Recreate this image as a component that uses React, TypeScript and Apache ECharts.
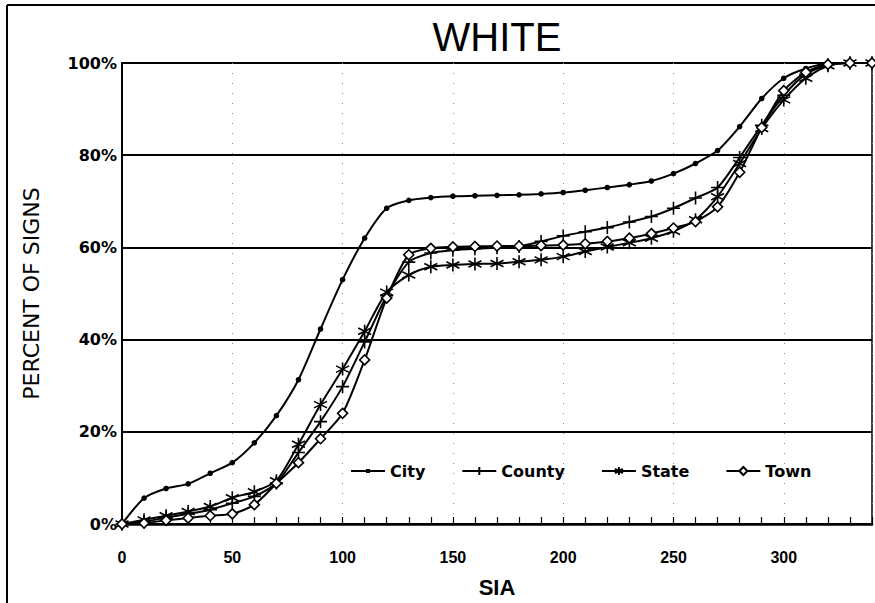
import React, { useEffect, useRef } from "react";
import * as echarts from "echarts";

const sia = [0, 10, 20, 30, 40, 50, 60, 70, 80, 90, 100, 110, 120, 130, 140, 150, 160, 170, 180, 190, 200, 210, 220, 230, 240, 250, 260, 270, 280, 290, 300, 310, 320, 330, 340];
const city = [0, 5.6, 7.7, 8.7, 11, 13.3, 17.6, 23.5, 31.3, 42.3, 53, 62, 68.5, 70.2, 70.8, 71.1, 71.2, 71.3, 71.4, 71.6, 71.9, 72.4, 73, 73.6, 74.4, 76, 78.2, 81, 86.2, 92.3, 96.7, 98.8, 99.9, 100, 100];
const county = [0, 0.5, 1.4, 2.2, 3.1, 4.5, 6, 8.9, 15.5, 22.2, 29.8, 39.5, 49.5, 56.8, 58.8, 59.4, 59.7, 59.9, 60.2, 61.3, 62.5, 63.4, 64.3, 65.5, 66.7, 68.5, 70.7, 73, 79.5, 86.5, 93, 97.6, 99.6, 100, 100];
const state = [0, 0.9, 1.8, 2.7, 3.8, 5.7, 7, 9.4, 17.3, 25.9, 33.6, 41.8, 50.3, 54, 55.8, 56.2, 56.4, 56.5, 56.9, 57.3, 58, 59.1, 60.1, 61, 62, 63.5, 66, 71, 78.2, 85.8, 92, 96.7, 99.4, 100, 100];
const town = [0, 0.2, 0.8, 1.3, 1.8, 2.2, 4.2, 8.8, 13.3, 18.5, 24, 35.6, 49, 58.4, 59.8, 60.1, 60.2, 60.3, 60.3, 60.4, 60.5, 60.8, 61.3, 62, 63, 64.2, 65.6, 68.8, 76.3, 86, 94, 98, 99.7, 100, 100];
const yTicks = [0, 20, 40, 60, 80, 100];

const FONT = "'Liberation Sans', Arial, sans-serif";
const WIDE = "'DejaVu Sans', Verdana, sans-serif";
const PLUS = "path://M5,0 L5,10 M0,5 L10,5";
const STAR = "path://M5,0 L5,10 M0.7,2.5 L9.3,7.5 M0.7,7.5 L9.3,2.5";
const CITY_ICON = "path://M0,4 L34,4 L34,6 L0,6 Z M15,3 L19,3 L19,7 L15,7 Z";

const pairs = (ys: number[]) => sia.map((x, i) => [x, ys[i]]);

export default function App() {
  const ref = useRef<HTMLDivElement>(null);
  useEffect(() => {
    if (!ref.current) return;
    const chart = echarts.init(ref.current, null, { renderer: "svg" });
    const base = (name: string, data: number[], symbol: string, size: number, fill: string) => ({
      name,
      type: "line",
      data: pairs(data),
      smooth: 0.25,
      symbol,
      symbolSize: size,
      showAllSymbol: true,
      lineStyle: { color: "#000", width: 2 },
      itemStyle: { color: fill, borderColor: "#000", borderWidth: 1.6 },
      emphasis: { disabled: true },
    });
    chart.setOption({
      animation: false,
      backgroundColor: "#fff",
      textStyle: { fontFamily: FONT, color: "#000" },
      title: {
        text: "WHITE",
        left: 492,
        top: 12,
        textAlign: "center",
        textStyle: { fontFamily: FONT, fontSize: 40, fontWeight: "normal", color: "#000" },
      },
      graphic: [
        { type: "line", shape: { x1: 7, y1: 5, x2: 875, y2: 5 }, style: { stroke: "#000", lineWidth: 2 } },
        { type: "line", shape: { x1: 7, y1: 5, x2: 7, y2: 603 }, style: { stroke: "#000", lineWidth: 2 } },
      ],
      legend: {
        left: 346,
        top: 458,
        itemGap: 36,
        itemWidth: 34,
        itemHeight: 10,
        textStyle: { fontFamily: WIDE, fontSize: 16, fontWeight: "bold", color: "#000" },
        data: [
          { name: "City", icon: CITY_ICON, itemStyle: { color: "#000", borderWidth: 0 } },
          "County",
          "State",
          "Town",
        ],
      },
      grid: {
        left: 122,
        top: 63,
        right: 3,
        bottom: 79,
        show: true,
        borderColor: "#000",
        borderWidth: 1.5,
        backgroundColor: "transparent",
      },
      xAxis: {
        type: "value",
        min: 0,
        max: 340,
        interval: 50,
        name: "SIA",
        nameLocation: "middle",
        nameGap: 52,
        nameTextStyle: { fontFamily: FONT, fontSize: 22, fontWeight: "bold", color: "#000" },
        axisLine: { lineStyle: { color: "#000", width: 2.5 } },
        axisTick: { inside: true, length: 7, lineStyle: { color: "#000", width: 1.2 } },
        minorTick: { show: true, splitNumber: 5, length: 7, lineStyle: { color: "#000", width: 1.2 } },
        axisLabel: {
          margin: 25,
          fontFamily: FONT,
          fontSize: 16,
          fontWeight: "bold",
          color: "#000",
          formatter: (v: number) => (v % 50 === 0 ? String(v) : ""),
        },
        splitLine: { show: true, lineStyle: { color: "#888", width: 1, type: [1, 9] } },
      },
      yAxis: {
        type: "value",
        min: 0,
        max: 100,
        interval: 20,
        name: "PERCENT OF SIGNS",
        nameLocation: "middle",
        nameRotate: 90,
        nameGap: 80,
        nameTextStyle: { fontFamily: WIDE, fontSize: 22, color: "#000" },
        axisLine: { show: true, lineStyle: { color: "#000", width: 2 } },
        axisTick: { show: false },
        axisLabel: {
          margin: 5,
          fontFamily: WIDE,
          fontSize: 16,
          fontWeight: "bold",
          color: "#000",
          customValues: yTicks,
          formatter: (v: number) => `${v}%`,
        },
        splitLine: { show: true, lineStyle: { color: "#000", width: 2.2 } },
      },
      series: [
        base("City", city, "circle", 4, "#000"),
        base("County", county, PLUS, 13, "none"),
        base("State", state, STAR, 13, "none"),
        base("Town", town, "diamond", 10, "#fff"),
      ],
    });
    return () => chart.dispose();
  }, []);
  return <div ref={ref} style={{ width: 875, height: 603, position: "absolute", left: 0, top: 0 }} />;
}
